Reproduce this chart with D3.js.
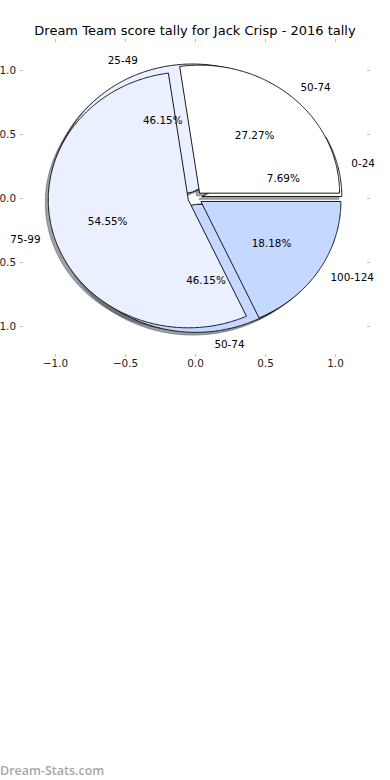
<!DOCTYPE html>
<html><head><meta charset="utf-8">
<script src="https://cdn.jsdelivr.net/npm/d3@7"></script>
<style>body{margin:0;background:#fff} svg{display:block}</style>
</head><body>
<svg id="c" width="390" height="780"></svg>
<script>
const title = "Dream Team score tally for Jack Crisp - 2016 tally";
// pie drawn underneath
const labelsB = ["0-24", "25-49", "50-74"];
const valuesB = [7.69, 46.15, 46.15];
// pie drawn on top
const labelsA = ["50-74", "75-99", "100-124"];
const valuesA = [27.27, 54.55, 18.18];
const wedgeColors = ["#ffffff", "#eaf0ff", "#c5d8ff"];
const xTicks = [-1, -0.5, 0, 0.5, 1];
const yTicks = [-1, -0.5, 0, 0.5, 1];

const EXPLODE = 0.05, LABEL_R = 1.1, PCT_R = 0.6, SHADOW = 0.021;
const FONT = "'DejaVu Sans', sans-serif";

const svg = d3.select("#c");
const x = d3.scaleLinear().domain([-1, 1]).range([55, 335]);
const y = d3.scaleLinear().domain([-1, 1]).range([326, 70]);
const frame = {left: 23, right: 367, top: 42, bottom: 354};

svg.append("text").attr("x", 195).attr("y", 34.5).attr("text-anchor", "middle")
  .attr("font-family", FONT).attr("font-size", 13).attr("fill", "#000").text(title);

// axes (ticks only, no spines)
function styleAxis(g) {
  g.select(".domain").remove();
  g.selectAll(".tick line").attr("stroke", "#b0b0b0").attr("stroke-width", 0.8);
  g.selectAll(".tick text").attr("fill", "#222").attr("font-family", FONT).attr("font-size", 10.4);
}
const fmt = d3.format(".1f");
svg.append("g").attr("transform", `translate(0,${frame.bottom})`)
  .call(d3.axisBottom(x).tickValues(xTicks).tickSize(3).tickPadding(3).tickFormat(fmt)).call(styleAxis);
svg.append("g").attr("transform", `translate(0,${frame.top})`)
  .call(d3.axisTop(x).tickValues(xTicks).tickSize(3).tickFormat("")).call(styleAxis);
svg.append("g").attr("transform", `translate(${frame.left},0)`)
  .call(d3.axisLeft(y).tickValues(yTicks).tickSize(3).tickPadding(4).tickFormat(fmt)).call(styleAxis);
svg.append("g").attr("transform", `translate(${frame.right},0)`)
  .call(d3.axisRight(y).tickValues(yTicks).tickSize(3).tickFormat("")).call(styleAxis);

const pieGen = d3.pie().sort(null).startAngle(0).endAngle(2 * Math.PI);
const line = d3.line().x(d => x(d[0])).y(d => y(d[1])).curve(d3.curveLinear);

function buildWedges(values, labels) {
  return pieGen(values).map((p, i) => {
    const mid = (p.startAngle + p.endAngle) / 2;
    const cx = EXPLODE * Math.cos(mid), cy = EXPLODE * Math.sin(mid);
    return {a0: p.startAngle, a1: p.endAngle, mid, cx, cy, label: labels[i],
            pct: values[i] / d3.sum(values) * 100, color: wedgeColors[i]};
  });
}
function wedgePts(w, ox, oy) {
  const n = Math.max(2, Math.ceil((w.a1 - w.a0) / (Math.PI / 360)));
  const pts = [[w.cx + ox, w.cy + oy]];
  for (let k = 0; k <= n; k++) {
    const a = w.a0 + (w.a1 - w.a0) * k / n;
    pts.push([w.cx + ox + Math.cos(a), w.cy + oy + Math.sin(a)]);
  }
  return pts;
}
const wedgesB = buildWedges(valuesB, labelsB);
const wedgesA = buildWedges(valuesA, labelsA);
const all = wedgesB.concat(wedgesA);

// shadows (behind every wedge)
svg.append("g").selectAll("path").data(all).join("path")
  .attr("d", w => line(wedgePts(w, -SHADOW, -SHADOW)) + "Z")
  .attr("fill", w => { const c = d3.rgb(w.color); return d3.rgb(c.r * 0.3, c.g * 0.3, c.b * 0.3); })
  .attr("fill-opacity", 0.5)
  .attr("stroke", w => { const c = d3.rgb(w.color); return d3.rgb(c.r * 0.3, c.g * 0.3, c.b * 0.3); })
  .attr("stroke-opacity", 0.5).attr("stroke-width", 1);

// wedges: lower pie first, then the upper one
svg.append("g").selectAll("path").data(all).join("path")
  .attr("d", w => line(wedgePts(w, 0, 0)) + "Z")
  .attr("fill", w => w.color).attr("stroke", "#000").attr("stroke-width", 0.9)
  .attr("stroke-linejoin", "miter");

// labels
const tg = svg.append("g").attr("font-family", FONT).attr("font-size", 10.4).attr("fill", "#000");
all.forEach(w => {
  const lx = w.cx + LABEL_R * Math.cos(w.mid), ly = w.cy + LABEL_R * Math.sin(w.mid);
  tg.append("text").attr("x", x(lx)).attr("y", y(ly)).attr("dy", "0.36em")
    .attr("text-anchor", lx > 0 ? "start" : "end").text(w.label);
  const px = w.cx + PCT_R * Math.cos(w.mid), py = w.cy + PCT_R * Math.sin(w.mid);
  tg.append("text").attr("x", x(px)).attr("y", y(py)).attr("dy", "0.36em")
    .attr("text-anchor", "middle").text(d3.format(".2f")(w.pct) + "%");
});

svg.append("text").attr("x", 0).attr("y", 775).attr("font-family", "'Open Sans', sans-serif")
  .attr("font-weight", 600).attr("font-size", 12.5).attr("fill", "#a6a6a6").text("Dream-Stats.com");
</script>
</body></html>
